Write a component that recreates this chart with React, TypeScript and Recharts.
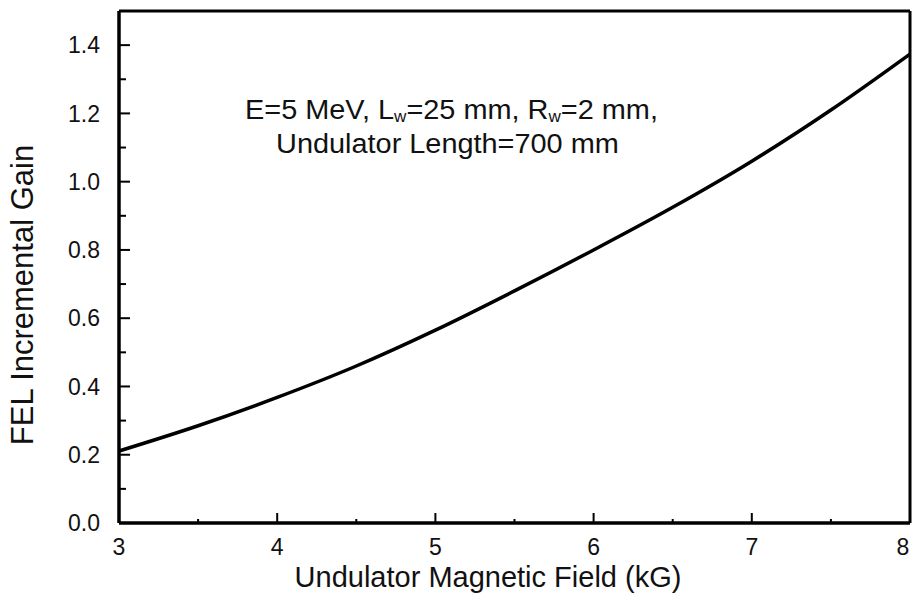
import { Customized, Line, LineChart, ReferenceLine, XAxis, YAxis } from "recharts";

// undulator field (kG) vs FEL incremental gain
const field = [3, 3.5, 4, 4.5, 5, 5.5, 6, 6.5, 7, 7.5, 8];
const gain = [0.211, 0.285, 0.368, 0.46, 0.565, 0.68, 0.8, 0.925, 1.06, 1.21, 1.374];

const xTicks = [3, 3.5, 4, 4.5, 5, 5.5, 6, 6.5, 7, 7.5, 8];
const yTicks = [0, 0.1, 0.2, 0.3, 0.4, 0.5, 0.6, 0.7, 0.8, 0.9, 1.0, 1.1, 1.2, 1.3, 1.4];

const data = field.map((f, i) => ({ field: f, gain: gain[i] }));

const W = 912;
const H = 603;
const PLOT_LEFT = 119;
const PLOT_RIGHT = 910;
const PLOT_BOTTOM = 523;
const FONT = "'Liberation Sans', Arial, sans-serif";

function YTick(props: any) {
  const { y, payload } = props;
  const v = payload.value as number;
  const major = Math.round(v * 10) % 2 === 0;
  return (
    <g>
      <line x1={PLOT_LEFT} x2={PLOT_LEFT + (major ? 11 : 7)} y1={y} y2={y} stroke="#000" strokeWidth={2} />
      {major && (
        <text x={100} y={y} dy="0.36em" textAnchor="end" fontSize={23} fontFamily={FONT} fill="#111">
          {v.toFixed(1)}
        </text>
      )}
    </g>
  );
}

function XTick(props: any) {
  const { x, payload } = props;
  const v = payload.value as number;
  const major = Number.isInteger(v);
  // keep the last label inside the page
  const tx = Math.min(x, PLOT_RIGHT - 7);
  return (
    <g>
      <line x1={x} x2={x} y1={PLOT_BOTTOM} y2={PLOT_BOTTOM - (major ? 10 : 4)} stroke="#000" strokeWidth={2} />
      {major && (
        <text x={tx} y={555} textAnchor="middle" fontSize={23} fontFamily={FONT} fill="#111">
          {v}
        </text>
      )}
    </g>
  );
}

function Titles() {
  return (
    <g fontFamily={FONT} fill="#111">
      <g transform="translate(245 0) scale(1.07 1)">
        <text x={0} y={119} fontSize={27}>
          E=5 MeV, L<tspan fontSize={16} dy={3}>w</tspan>
          <tspan dy={-3}>=25 mm, R</tspan>
          <tspan fontSize={16} dy={3}>w</tspan>
          <tspan dy={-3}>=2 mm,</tspan>
        </text>
        <text x={29} y={153} fontSize={27}>
          Undulator Length=700 mm
        </text>
      </g>
      <text x={488} y={587} textAnchor="middle" fontSize={29}>
        Undulator Magnetic Field (kG)
      </text>
      <text x={33} y={295} textAnchor="middle" fontSize={31} transform="rotate(-90 33 295)">
        FEL Incremental Gain
      </text>
    </g>
  );
}

export default function App() {
  return (
    <div style={{ position: "absolute", left: 0, top: 0, width: W, height: H, background: "#fff" }}>
      <LineChart width={W} height={H} data={data} margin={{ top: 11, right: 2, bottom: 0, left: 0 }}>
        <XAxis
          dataKey="field"
          type="number"
          domain={[3, 8]}
          ticks={xTicks}
          interval={0}
          height={80}
          tickLine={false}
          tick={<XTick />}
          axisLine={{ stroke: "#000", strokeWidth: 3.5 }}
        />
        <YAxis
          type="number"
          domain={[0, 1.5]}
          ticks={yTicks}
          interval={0}
          width={119}
          tickLine={false}
          tick={<YTick />}
          axisLine={{ stroke: "#000", strokeWidth: 3.5 }}
        />
        <ReferenceLine y={1.5} stroke="#000" strokeWidth={3} />
        <ReferenceLine x={8} stroke="#000" strokeWidth={3} />
        <Line
          type="monotone"
          dataKey="gain"
          stroke="#000"
          strokeWidth={3.5}
          dot={false}
          isAnimationActive={false}
        />
        <Customized component={<Titles />} />
      </LineChart>
    </div>
  );
}
